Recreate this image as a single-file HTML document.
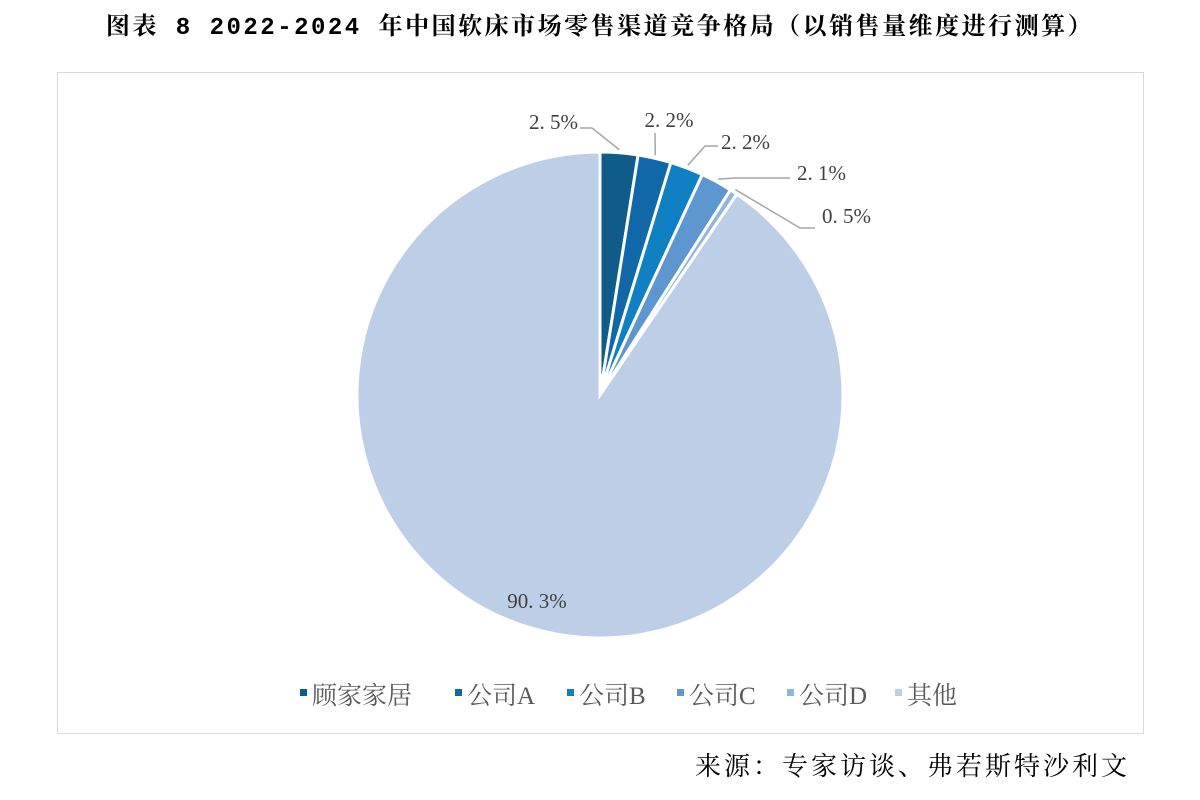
<!DOCTYPE html>
<html><head><meta charset="utf-8"><style>
body{margin:0;background:#fff;width:1200px;height:800px;overflow:hidden;font-family:"Liberation Serif","Noto Serif CJK SC",serif}
#title{position:absolute;left:0;width:1200px;top:6px;text-align:center;font-size:24px;font-weight:bold;letter-spacing:2.5px;white-space:nowrap;font-family:"Liberation Mono","Noto Serif CJK SC",serif}
#frame{position:absolute;left:57px;top:72px;width:1085px;height:660px;border:1px solid #d9d9d9}
#src{position:absolute;right:70px;top:746px;font-size:26px;letter-spacing:3px}
</style></head><body>
<div id="title">图表 8 2022-2024 年中国软床市场零售渠道竞争格局（以销售量维度进行测算）</div>
<div id="frame"></div>
<svg id="chart" width="1200" height="800" style="position:absolute;left:0;top:0"></svg>
<div id="src">来源：专家访谈、弗若斯特沙利文</div>
<script>
const categories=["顾家家居","公司A","公司B","公司C","公司D","其他"];
const values=[2.5,2.2,2.2,2.1,0.5,90.3];
const labels=["2. 5%","2. 2%","2. 2%","2. 1%","0. 5%","90. 3%"];
const colors=["#0f5b8a","#1068a8","#0f80c1","#5e97cf","#92b5de","#bccfe6"];
const labelPos=[[578,129,'end'],[669,127,'middle'],[721,149,'start'],[797,180,'start'],[822,223,'start'],[537,608,'middle']];
const elbows=[[[592,128],[580,128]],[[655,133],[655,133]],[[705,146],[718,146]],[[735,178],[790,178]],[[800,228],[815,228]]];
const svg=document.getElementById('chart');const NS="http://www.w3.org/2000/svg";
const cx=600,cy=395,r=243;
const total=values.reduce((a,b)=>a+b,0);
function pt(a,rr){return [cx+rr*Math.sin(a),cy-rr*Math.cos(a)];}
let a0=0;
values.forEach((v,i)=>{
 const a1=a0+v/total*2*Math.PI;
 const p0=pt(a0,r),p1=pt(a1,r);
 const path=document.createElementNS(NS,'path');
 path.setAttribute('d',`M${cx},${cy}L${p0[0]},${p0[1]}A${r},${r} 0 ${a1-a0>Math.PI?1:0} 1 ${p1[0]},${p1[1]}Z`);
 path.setAttribute('fill',colors[i]);path.setAttribute('stroke','#fff');path.setAttribute('stroke-width','3');
 
 
 svg.appendChild(path);
 const [lx,ly,anc]=labelPos[i];
 if(i<5){
  const m=(a0+a1)/2,e=pt(m,r+3);
  const ln=document.createElementNS(NS,'polyline');
  const [b,c]=elbows[i];
  ln.setAttribute('points',`${e[0]},${e[1]} ${b[0]},${b[1]} ${c[0]},${c[1]}`);
  ln.setAttribute('fill','none');ln.setAttribute('stroke','#a6a6a6');ln.setAttribute('stroke-width','1.5');
  
  
  svg.appendChild(ln);
 }
 const t=document.createElementNS(NS,'text');
 t.setAttribute('x',lx);t.setAttribute('y',ly);t.setAttribute('text-anchor',anc);
 t.setAttribute('font-size','21');t.setAttribute('fill','#404040');t.setAttribute('font-family','"Liberation Serif","Noto Serif CJK SC",serif');
 t.textContent=labels[i];
 
 
 svg.appendChild(t);
 a0=a1;
});
const legX=[300,455,567,677,787,895];
categories.forEach((c,i)=>{
 const g=document.createElementNS(NS,'g');
 
 
 const s=document.createElementNS(NS,'rect');
 s.setAttribute('x',legX[i]);s.setAttribute('y',689);s.setAttribute('width',7);s.setAttribute('height',7);s.setAttribute('fill',colors[i]);
 g.appendChild(s);
 const t=document.createElementNS(NS,'text');
 t.setAttribute('x',legX[i]+12);t.setAttribute('y',704);t.setAttribute('font-size','25');t.setAttribute('fill','#595959');
 t.setAttribute('font-family','"Liberation Serif","Noto Serif CJK SC",serif');
 t.textContent=c;g.appendChild(t);svg.appendChild(g);
});
</script>
</body></html>
